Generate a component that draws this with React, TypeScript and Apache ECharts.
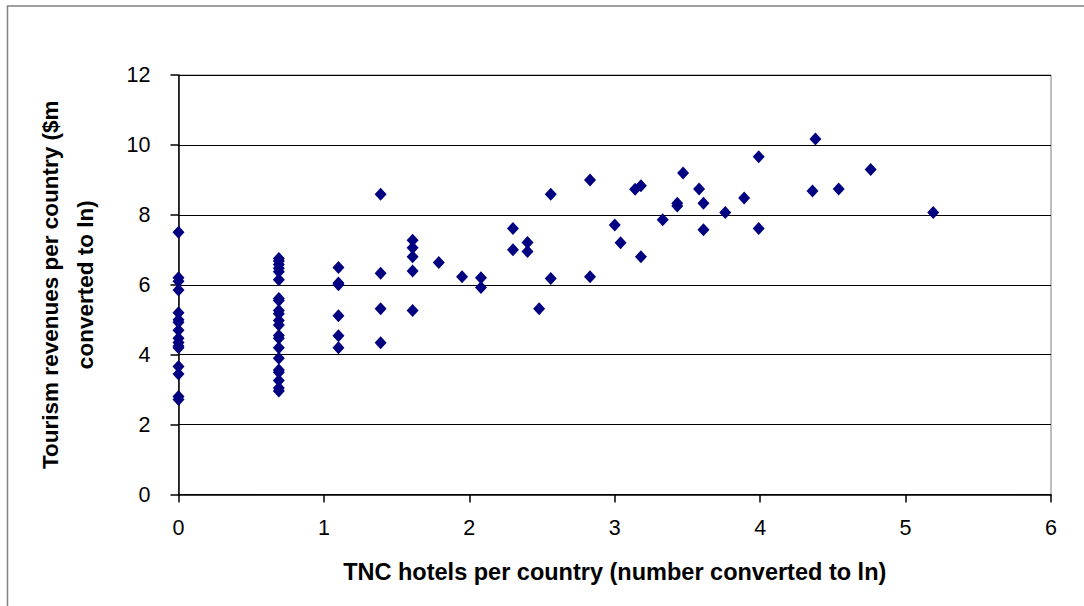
import React, { useEffect, useRef } from "react";
import * as echarts from "echarts";

// TNC hotels per country (ln) and tourism revenues ($m, ln)
const hotelsLn: number[] = [
  0, 0, 0, 0, 0, 0, 0, 0, 0, 0, 0, 0, 0, 0, 0, 0,
  0.69, 0.69, 0.69, 0.69, 0.69, 0.69, 0.69, 0.69, 0.69, 0.69, 0.69, 0.69, 0.69, 0.69, 0.69, 0.69, 0.69, 0.69, 0.69, 0.69, 0.69,
  1.1, 1.1, 1.1, 1.1, 1.1, 1.1,
  1.39, 1.39, 1.39, 1.39,
  1.61, 1.61, 1.61, 1.61, 1.61,
  1.79, 1.95, 2.08, 2.08,
  2.3, 2.3, 2.4, 2.4, 2.48,
  2.56, 2.56, 2.83, 2.83,
  3.0, 3.04, 3.14, 3.18, 3.18,
  3.33, 3.43, 3.43, 3.47, 3.58, 3.61, 3.61,
  3.76, 3.89, 3.99, 3.99,
  4.36, 4.38, 4.54, 4.76, 5.19,
];
const revenuesLn: number[] = [
  7.5, 6.2, 6.1, 5.85, 5.2, 5.0, 4.93, 4.7, 4.47, 4.35, 4.25, 4.2, 3.66, 3.45, 2.8, 2.72,
  6.75, 6.68, 6.58, 6.47, 6.37, 6.14, 5.61, 5.55, 5.26, 5.17, 4.98, 4.85, 4.55, 4.47, 4.2, 3.9, 3.56, 3.5, 3.26, 3.05, 2.96,
  6.49, 6.05, 6.0, 5.11, 4.54, 4.2,
  8.59, 6.33, 5.31, 4.34,
  7.27, 7.06, 6.8, 6.39, 5.26,
  6.64, 6.23, 6.2, 5.92,
  7.61, 7.0, 7.21, 6.95, 5.31,
  8.59, 6.18, 9.0, 6.23,
  7.71, 7.2, 8.73, 8.83, 6.8,
  7.86, 8.33, 8.25, 9.2, 8.74, 8.33, 7.57,
  8.07, 8.48, 9.66, 7.61,
  8.68, 10.17, 8.74, 9.3, 8.07,
];

const xTicks = [0, 1, 2, 3, 4, 5, 6];
const yTicks = [0, 2, 4, 6, 8, 10, 12];

const xTitle = "TNC hotels per country (number converted to ln)";
const yTitle = "Tourism revenues per country ($m\nconverted to ln)";

export default function App() {
  const ref = useRef<HTMLDivElement>(null);
  useEffect(() => {
    if (!ref.current) return;
    const chart = echarts.init(ref.current, undefined, { renderer: "svg" });
    const n = Math.min(hotelsLn.length, revenuesLn.length);
    const points = [];
    for (let i = 0; i < n; i++) points.push([hotelsLn[i], revenuesLn[i]]);
    const font = "Liberation Sans, Arial, sans-serif";
    chart.setOption({
      animation: false,
      backgroundColor: "#ffffff",
      textStyle: { fontFamily: font },
      grid: {
        left: 178.5,
        top: 75,
        right: 33,
        bottom: 111.5,
        show: true,
        borderColor: "#808080",
        borderWidth: 1,
        backgroundColor: "transparent",
      },
      graphic: [
        {
          type: "rect",
          shape: { x: 7.5, y: 6, width: 1100, height: 620 },
          style: { fill: "none", stroke: "#808080", lineWidth: 1.5 },
          silent: true,
          z: -10,
        },
      ],
      xAxis: {
        type: "value",
        min: xTicks[0],
        max: xTicks[xTicks.length - 1],
        interval: 1,
        name: xTitle,
        nameLocation: "middle",
        nameGap: 65,
        nameTextStyle: { fontSize: 23.5, fontWeight: "bold", color: "#000", fontFamily: font },
        axisLine: { show: true, onZero: false, lineStyle: { color: "#000", width: 1.5 } },
        axisTick: { show: true, inside: false, length: 8, lineStyle: { color: "#000", width: 1.5 } },
        axisLabel: { fontSize: 21.5, color: "#000", margin: 22, fontFamily: font },
        splitLine: { show: false },
      },
      yAxis: {
        type: "value",
        min: yTicks[0],
        max: yTicks[yTicks.length - 1],
        interval: 2,
        name: yTitle,
        nameLocation: "middle",
        nameGap: 76,
        nameTextStyle: { fontSize: 22.5, fontWeight: "bold", color: "#000", lineHeight: 35, fontFamily: font },
        axisLine: { show: true, onZero: false, lineStyle: { color: "#000", width: 1.5 } },
        axisTick: { show: true, inside: false, length: 8, lineStyle: { color: "#000", width: 1.5 } },
        axisLabel: { fontSize: 21.5, color: "#000", margin: 28, fontFamily: font },
        splitLine: { show: true, lineStyle: { color: "#000", width: 1.2 } },
      },
      series: [
        {
          type: "scatter",
          data: points,
          symbol: "diamond",
          symbolSize: [12, 13],
          itemStyle: { color: "#000080", opacity: 1 },
          z: 5,
        },
      ],
    });
    return () => chart.dispose();
  }, []);
  return (
    <div
      ref={ref}
      style={{ position: "fixed", left: 0, top: 0, width: 1084, height: 606, background: "#fff" }}
    />
  );
}
